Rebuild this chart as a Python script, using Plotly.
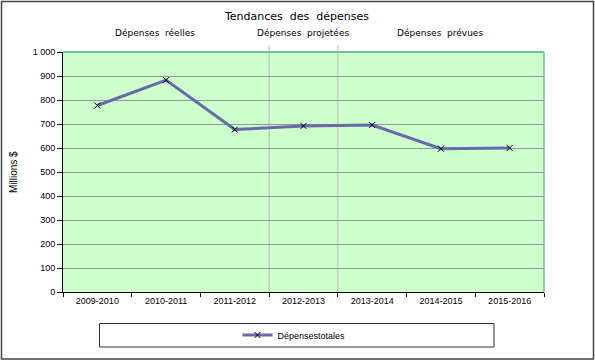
import plotly.graph_objects as go

categories = ["2009-2010", "2010-2011", "2011-2012", "2012-2013", "2013-2014", "2014-2015", "2015-2016"]
depenses_totales = [777, 883, 677, 692, 696, 597, 600]
series_name = "Dépensestotales"
y_tickvals = [0, 100, 200, 300, 400, 500, 600, 700, 800, 900, 1000]
y_ticktext = ["0", "100", "200", "300", "400", "500", "600", "700", "800", "900", "1 000"]
period_labels = ["Dépenses  réelles", "Dépenses  projetées", "Dépenses  prévues"]
title_text = "Tendances  des  dépenses"
y_title = "Millions $"

# plot area in pixels: x 63..544, y 52..292
L, R, T, B = 63, 544, 52, 292
W, H = R - L, B - T

def px(x):
    return (x - L) / W

def py(y):
    return (B - y) / H

fig = go.Figure()
fig.add_trace(go.Scatter(
    x=categories, y=depenses_totales, name=series_name,
    mode="lines+markers",
    line=dict(color="#6868aa", width=3),
    marker=dict(symbol="x-thin", size=6, color="black", line=dict(color="black", width=1)),
    showlegend=True,
))

shapes = []
# outer chart border
shapes.append(dict(type="rect", xref="paper", yref="paper",
                   x0=px(1.5), x1=px(593.5), y0=py(359), y1=py(1.5),
                   line=dict(color="#444444", width=1.5), fillcolor="rgba(0,0,0,0)", layer="below"))
# legend box
shapes.append(dict(type="rect", xref="paper", yref="paper",
                   x0=px(99.5), x1=px(494), y0=py(347), y1=py(323.5),
                   line=dict(color="#333333", width=1), fillcolor="white", layer="below"))
# period separators
for xv in [2.5, 3.5]:
    shapes.append(dict(type="line", xref="x", yref="paper", x0=xv, x1=xv, y0=0, y1=py(45),
                       line=dict(color="#bbbbbb", width=1), layer="below"))
# green top and right border of plot area
shapes.append(dict(type="line", xref="paper", yref="paper", x0=0, x1=1, y0=1, y1=1,
                   line=dict(color="#4caf78", width=1.5)))
shapes.append(dict(type="line", xref="paper", yref="paper", x0=1, x1=1, y0=0, y1=1,
                   line=dict(color="#6cc090", width=1.5)))

annotations = [
    dict(text=title_text, xref="paper", yref="paper", x=px(296), y=py(16), showarrow=False,
         font=dict(family="DejaVu Sans", size=11, color="black"), xanchor="center", yanchor="middle"),
    dict(text=y_title, xref="paper", yref="paper", x=px(13), y=py(172), showarrow=False, textangle=-90,
         font=dict(family="Liberation Sans", size=10, color="black"), xanchor="center", yanchor="middle"),
]
for lbl, cx in zip(period_labels, [155, 303, 440]):
    annotations.append(dict(text=lbl, xref="paper", yref="paper", x=px(cx), y=py(33), showarrow=False,
                            font=dict(family="DejaVu Sans", size=9, color="black"),
                            xanchor="center", yanchor="middle"))

fig.update_layout(
    width=595, height=361,
    margin=dict(l=L, r=595 - R, t=T, b=361 - B),
    paper_bgcolor="white",
    plot_bgcolor="#ccffcc",
    font=dict(family="Liberation Sans", size=9, color="black"),
    shapes=shapes,
    annotations=annotations,
    legend=dict(orientation="h", x=px(294), xanchor="center", y=py(335), yanchor="middle",
                bgcolor="rgba(0,0,0,0)", font=dict(family="Liberation Sans", size=9, color="black"),
                itemwidth=30),
    xaxis=dict(type="category", tickson="boundaries", ticks="outside", ticklen=4, tickcolor="black",
               showline=True, linecolor="black", linewidth=1, showgrid=False, zeroline=False,
               range=[-0.5, 6.5], tickfont=dict(size=9)),
    yaxis=dict(range=[0, 1000], tickvals=y_tickvals, ticktext=y_ticktext, ticks="outside", ticklen=5,
               tickcolor="black", showline=True, linecolor="black", linewidth=1,
               showgrid=True, gridcolor="#959595", gridwidth=1, zeroline=False, tickfont=dict(size=9)),
)

fig.write_html("out.html", config={"displayModeBar": False},
               post_script="document.body.style.margin='0';document.body.style.overflow='hidden';")
